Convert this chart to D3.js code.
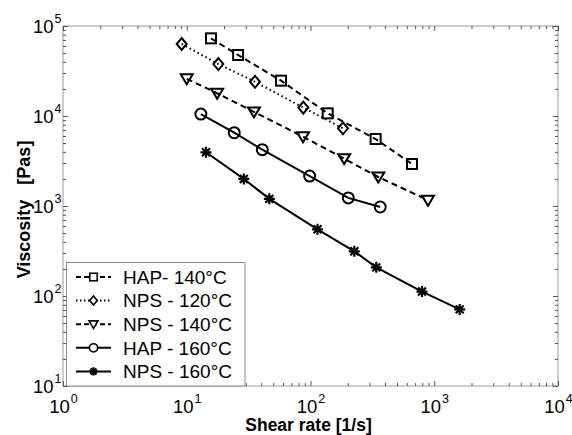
<!DOCTYPE html>
<html><head><meta charset="utf-8">
<script src="https://cdn.jsdelivr.net/npm/d3@7"></script>
<style>body{margin:0;background:#fff}svg{display:block}</style>
</head><body>
<svg id="c" width="572" height="435"></svg>
<script>
const seriesNames = ["HAP- 140°C","NPS - 120°C","NPS - 140°C","HAP - 160°C","NPS - 160°C"];
const hap140X = [15.7, 26, 57.8, 137.7, 336, 661];
const hap140Y = [72900, 47600, 24700, 10700, 5550, 2930];
const nps120X = [9.1, 18, 35.6, 87.5, 183];
const nps120Y = [63100, 37800, 24000, 12400, 7300];
const nps140X = [10, 17.6, 34.9, 87, 187, 353, 890];
const nps140Y = [25900, 17900, 11100, 5890, 3360, 2100, 1160];
const hap160X = [13, 24.2, 40.8, 98.5, 202, 366];
const hap160Y = [10500, 6520, 4230, 2150, 1230, 975];
const nps160X = [14.3, 28.9, 46.5, 114, 226, 340, 796, 1605];
const nps160Y = [3950, 2000, 1200, 551, 314, 208, 112, 71];
const xMajorTicks = [1, 10, 100, 1000, 10000];
const yMajorTicks = [10, 100, 1000, 10000, 100000];
const xTickExp = ["0","1","2","3","4"];
const yTickExp = ["1","2","3","4","5"];

const series = [
  {name: seriesNames[0], x: hap140X, y: hap140Y, dash: "6,4", marker: "square"},
  {name: seriesNames[1], x: nps120X, y: nps120Y, dash: "1.5,3", marker: "diamond"},
  {name: seriesNames[2], x: nps140X, y: nps140Y, dash: "6,4", marker: "tri"},
  {name: seriesNames[3], x: hap160X, y: hap160Y, dash: null, marker: "circle"},
  {name: seriesNames[4], x: nps160X, y: nps160Y, dash: null, marker: "star"}
];

const L = 63, R = 558, T = 26, B = 386;
const FONT = "'Liberation Sans', Arial, Helvetica, sans-serif";
const svg = d3.select("#c");
const x = d3.scaleLog().domain([1, 10000]).range([L, R]);
const y = d3.scaleLog().domain([10, 100000]).range([B, T]);

function minors(lo, hi){ const m=[]; for(let d=lo; d<hi; d*=10) for(let k=2;k<=9;k++) m.push(d*k); return m; }
const xMinor = minors(1, 10000), yMinor = minors(10, 100000);

// frame
svg.append("rect").attr("x", L).attr("y", T).attr("width", R-L).attr("height", B-T)
  .attr("fill", "none").attr("stroke", "#9a9a9a").attr("stroke-width", 1);

function styleAxis(g){ g.select(".domain").remove(); g.selectAll(".tick line").attr("stroke", "#555"); }
const none = () => "";
// bottom
svg.append("g").attr("transform", `translate(0,${B})`).call(d3.axisBottom(x).tickValues(xMinor).tickSizeInner(-3).tickSizeOuter(0).tickFormat(none)).call(styleAxis);
const bx = svg.append("g").attr("transform", `translate(0,${B})`).call(d3.axisBottom(x).tickValues(xMajorTicks).tickSizeInner(-5).tickSizeOuter(0).tickPadding(0)).call(styleAxis);
// top
svg.append("g").attr("transform", `translate(0,${T})`).call(d3.axisTop(x).tickValues(xMinor).tickSizeInner(-3).tickSizeOuter(0).tickFormat(none)).call(styleAxis);
svg.append("g").attr("transform", `translate(0,${T})`).call(d3.axisTop(x).tickValues(xMajorTicks).tickSizeInner(-5).tickSizeOuter(0).tickFormat(none)).call(styleAxis);
// left
svg.append("g").attr("transform", `translate(${L},0)`).call(d3.axisLeft(y).tickValues(yMinor).tickSizeInner(-3).tickSizeOuter(0).tickFormat(none)).call(styleAxis);
const ly = svg.append("g").attr("transform", `translate(${L},0)`).call(d3.axisLeft(y).tickValues(yMajorTicks).tickSizeInner(-5).tickSizeOuter(0).tickPadding(0)).call(styleAxis);
// right
svg.append("g").attr("transform", `translate(${R},0)`).call(d3.axisRight(y).tickValues(yMinor).tickSizeInner(-3).tickSizeOuter(0).tickFormat(none)).call(styleAxis);
svg.append("g").attr("transform", `translate(${R},0)`).call(d3.axisRight(y).tickValues(yMajorTicks).tickSizeInner(-5).tickSizeOuter(0).tickFormat(none)).call(styleAxis);

// superscript labels
bx.selectAll(".tick text").each(function(d, i){
  const t = d3.select(this).text("").attr("y", 27).attr("dy", null)
    .attr("font-family", FONT).attr("font-size", 18.5).attr("fill", "#000").attr("text-anchor", "middle");
  t.append("tspan").text("10");
  t.append("tspan").text(xTickExp[i]).attr("font-size", 12.5).attr("dy", -10).attr("dx", 1);
});
ly.selectAll(".tick text").each(function(d, i){
  const t = d3.select(this).text("").attr("x", -1.5).attr("dy", "0.35em")
    .attr("font-family", FONT).attr("font-size", 18.5).attr("fill", "#000").attr("text-anchor", "end");
  t.append("tspan").text("10");
  t.append("tspan").text(yTickExp[i]).attr("font-size", 12.5).attr("dy", -10).attr("dx", 1);
});

// axis titles
svg.append("text").attr("x", (L+R)/2 - 2).attr("y", 431).attr("text-anchor", "middle")
  .attr("font-family", FONT).attr("font-weight", "bold").attr("font-size", 17.5).text("Shear rate [1/s]");
svg.append("text").attr("transform", `translate(29.5,${(T+B)/2 + 3.5}) rotate(-90)`).attr("text-anchor", "middle")
  .attr("xml:space", "preserve")
  .attr("font-family", FONT).attr("font-weight", "bold").attr("font-size", 18).text("Viscosity\u00A0\u00A0\u00A0[Pas]");

// markers
function drawMarker(g, type, cx, cy, s){
  const k = s || 1;
  if (type === "square") g.append("rect").attr("x", cx-5*k).attr("y", cy-5*k).attr("width", 10*k).attr("height", 10*k);
  else if (type === "circle") g.append("circle").attr("cx", cx).attr("cy", cy).attr("r", 5.5*k);
  else if (type === "diamond") g.append("path").attr("d", `M${cx},${cy-6*k}L${cx+5*k},${cy}L${cx},${cy+6*k}L${cx-5*k},${cy}Z`);
  else if (type === "tri") g.append("path").attr("d", `M${cx-6*k},${cy-4.5*k}L${cx+6*k},${cy-4.5*k}L${cx},${cy+5.5*k}Z`);
  else if (type === "star") {
    const r = 5.5*k, d = r*0.72;
    g.append("path").attr("d", `M${cx-r},${cy}L${cx+r},${cy}M${cx},${cy-r}L${cx},${cy+r}M${cx-d},${cy-d}L${cx+d},${cy+d}M${cx-d},${cy+d}L${cx+d},${cy-d}`).attr("stroke-width", 2.2);
  }
}

const line = d3.line().x(d => x(d[0])).y(d => y(d[1]));
series.forEach(s => {
  const pts = s.x.map((v, i) => [v, s.y[i]]);
  svg.append("path").datum(pts).attr("d", line).attr("fill", "none").attr("stroke", "#000")
    .attr("stroke-width", 2).attr("stroke-dasharray", s.dash);
  const g = svg.append("g").attr("fill", "none").attr("stroke", "#000").attr("stroke-width", 2);
  pts.forEach(p => drawMarker(g, s.marker, x(p[0]), y(p[1])));
});

// legend
const lg = svg.append("g");
lg.append("rect").attr("x", 66.5).attr("y", 262.5).attr("width", 178.5).attr("height", 123.5)
  .attr("fill", "#fff").attr("stroke", "#8a8a8a").attr("stroke-width", 1);
series.forEach((s, i) => {
  const cy = 277 + i*23.6;
  lg.append("line").attr("x1", 76).attr("x2", 111).attr("y1", cy).attr("y2", cy)
    .attr("stroke", "#000").attr("stroke-width", 2).attr("stroke-dasharray", s.dash ? (s.marker==="diamond" ? "1.5,2.5" : "5,3") : null);
  const g = lg.append("g").attr("fill", "#fff").attr("stroke", "#000").attr("stroke-width", 1.6);
  drawMarker(g, s.marker, 93.5, cy, 0.75);
  lg.append("text").attr("x", 123).attr("y", cy + 6.8).attr("font-family", FONT).attr("font-size", 19).text(s.name);
});
</script>
</body></html>
